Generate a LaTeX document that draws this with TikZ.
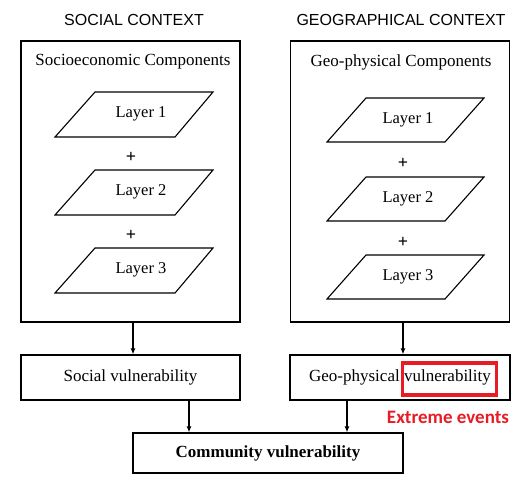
\documentclass[tikz,border=0pt]{standalone}
\usepackage{fontspec}
\setmainfont{Liberation Serif}
\newfontfamily\headfont{Liberation Sans}
\newfontfamily\notefont{Carlito}
\usetikzlibrary{arrows.meta}
\definecolor{alertred}{RGB}{232,28,36}
\begin{document}
\begin{tikzpicture}[x=1pt,y=-1pt,
  frame/.style={draw,line width=1.3pt},
  vbox/.style={draw,line width=1.3pt,minimum height=45pt,inner sep=0pt,font=\fontsize{17}{18}\selectfont},
  head/.style={font=\headfont\fontsize{16}{18}\selectfont},
  sub/.style={font=\fontsize{17}{18}\selectfont},
  lay/.style={line width=1.1pt},
  laytext/.style={font=\fontsize{16.5}{18}\selectfont},
  plus/.style={font=\bfseries\fontsize{18}{18}\selectfont},
  flow/.style={line width=1.1pt,-{Latex[length=6pt,width=5pt]}}]
\useasboundingbox (0,0) rectangle (526,485);

% column headings
\node[head] (hs) at (134,20) {SOCIAL CONTEXT};
\node[head] (hg) at (401,20) {GEOGRAPHICAL CONTEXT};

% the two context frames
\node[frame,minimum width=219pt,minimum height=281pt,inner sep=0pt] (fs) at (130.5,181.5) {};
\node[frame,minimum width=219pt,minimum height=281pt,inner sep=0pt] (fg) at (400,181.5) {};
\node[sub] (ss) at (133,62) {Socioeconomic Components};
\node[sub] (sg) at (401,62) {Geo-physical Components};

% stacked layers (parallelograms)
\foreach \i/\t in {1/92,2/170,3/248}{
  \draw[lay] (95,\t) -- (213,\t) -- (175,\t+45) -- (55,\t+45) -- cycle;
  \node[laytext] (ls\i) at (141,\t+22) {Layer \i};
}
\foreach \i/\t in {1/98,2/177,3/255}{
  \draw[lay] (366,\t) -- (484,\t) -- (445,\t+44) -- (327,\t+44) -- cycle;
  \node[laytext] (lg\i) at (408,\t+22) {Layer \i};
}
\node[plus] (ps1) at (131,157) {+};
\node[plus] (ps2) at (131,235) {+};
\node[plus] (pg1) at (403,163) {+};
\node[plus] (pg2) at (403,242) {+};

% vulnerability boxes
\node[vbox,minimum width=219pt] (sv) at (130.5,377.5) {Social vulnerability};
\node[vbox,minimum width=220pt] (gv) at (400,377.5) {Geo-physical vulnerability};
\node[vbox,minimum width=270pt,minimum height=40pt,font=\bfseries\fontsize{17}{18}\selectfont] (cv) at (268,453) {Community vulnerability};

% highlight and note
\node[draw=alertred,line width=3.5pt,minimum width=94pt,minimum height=32pt,inner sep=0pt] (hl) at (449.5,379) {};
\node[text=alertred,font=\notefont\bfseries\fontsize{19}{20}\selectfont] (ee) at (448,417) {Extreme events};

% flow arrows
\draw[flow] (fs.south -| 133,0) -- (sv.north -| 133,0);
\draw[flow] (fg.south -| 403,0) -- (gv.north -| 403,0);
\draw[flow] (sv.south -| 189,0) -- (cv.north -| 189,0);
\draw[flow] (gv.south -| 347,0) -- (cv.north -| 347,0);
\end{tikzpicture}
\end{document}
